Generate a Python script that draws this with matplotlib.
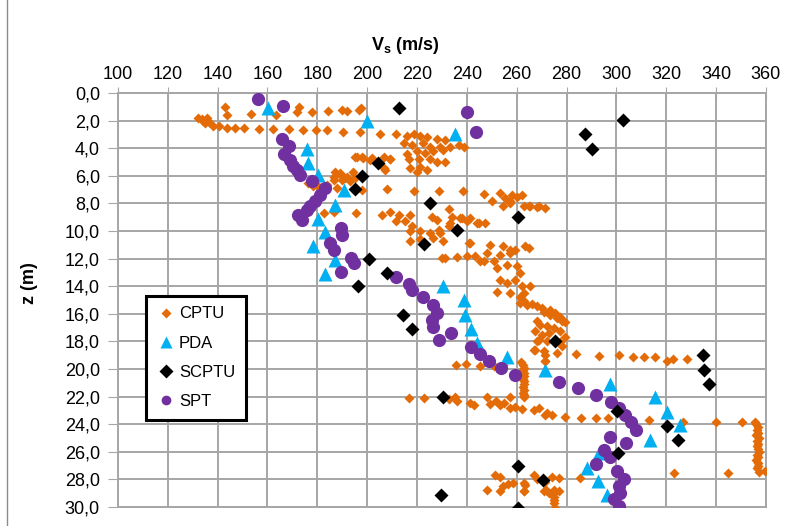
import numpy as np
import matplotlib
matplotlib.use("Agg")
import matplotlib.pyplot as plt
from matplotlib.lines import Line2D

plt.rcParams['font.family'] = ['Liberation Sans', 'DejaVu Sans']
plt.rcParams['mathtext.fontset'] = 'custom'
plt.rcParams['mathtext.rm'] = 'Liberation Sans'
plt.rcParams['mathtext.bf'] = 'Liberation Sans:bold'

# ---- data: (Vs [m/s], depth z [m]) ----
cptu_vs = [
    # shallow rows
    143.0, 143.7, 153.5, 163.6, 172.8, 171.8, 178.0, 184.4, 190.0, 191.8, 196.9, 197.6,
    132.3, 133.6, 135.6, 135.0, 136.7, 134.0, 138.3, 140.7, 143.7, 147.0, 150.7, 156.6,
    162.4, 168.7, 174.4, 179.4, 183.8, 190.2, 197.2, 205.2, 211.4,
    # cluster 215-240 m/s, 3-6 m
    215.9, 218.9, 221.3, 224.0, 228.0, 231.3, 214.6, 217.9, 222.6, 225.3, 229.3, 233.3,
    236.7, 238.7, 215.9, 219.9, 223.3, 226.6, 230.6, 216.6, 220.6, 225.3, 228.0, 231.3,
    217.3, 221.3, 224.0, 219.9,
    # 4.5-7 m
    195.2, 198.0, 201.9, 206.6, 209.2, 194.5, 206.6, 195.9, 198.5, 201.2, 209.2, 207.2,
    187.1, 189.2, 191.8, 195.2, 186.5, 189.8, 193.2, 197.9, 207.9, 186.5, 188.9, 191.2,
    176.4, 178.2, 180.4, 183.8, 187.8,
    # 7-9.5 m
    218.6, 228.7, 238.4, 246.7, 250.0, 253.4, 255.4, 258.1, 260.1, 262.1, 262.8, 265.5,
    268.8, 271.5, 257.4, 254.7, 264.8, 268.1, 257.4,
    182.5, 186.5, 195.6, 205.9, 209.2, 212.6, 217.3, 211.6, 215.3, 226.0, 228.0, 232.7,
    234.0, 238.0, 241.4, 244.0, 247.4, 233.3, 237.3, 240.0, 244.7,
    # 9.5-12.5 m
    217.9, 217.3, 221.3, 225.3, 229.3, 232.7, 228.7, 217.3, 221.3, 226.6, 230.6, 241.1,
    249.4, 254.7, 259.4, 263.5, 240.7, 257.4, 264.8, 231.3, 236.0, 240.0, 243.4, 246.7,
    253.4, 257.4, 248.0, 250.7, 252.1, 256.1, 260.1, 230.0, 245.4,
    # 12.5-16.5 m
    261.4, 253.4, 256.1, 259.4, 262.1, 252.1, 257.4, 262.8, 261.4, 265.5, 262.8, 266.0,
    268.1, 270.0, 273.5, 275.5, 277.5, 261.4, 264.0, 270.8, 273.5, 276.2, 278.2, 279.5,
    # 16.5-19.5 m
    269.5, 272.0, 274.8, 277.5, 279.5, 267.5, 270.2, 268.1, 272.2, 277.5, 278.2, 266.8,
    271.0, 276.2, 271.5, 268.1, 272.8, 268.8, 267.5, 271.5, 271.5,
    # row at about 19.3 m
    283.9, 293.2, 300.9, 306.7, 311.2, 315.4, 320.3, 322.8, 328.4,
    235.7, 239.8, 245.4, 251.0, 254.7, 261.7,
    # column at about 262 m/s
    262.6, 262.9, 262.7, 263.0, 262.8, 262.6, 262.9, 263.1, 262.7, 262.9, 262.6, 262.8, 263.0,
    # rows at about 22-24 m
    216.6, 223.0, 232.7, 235.3, 236.0, 241.4, 243.0, 248.0, 249.1, 251.5, 253.4, 254.8,
    257.4, 257.4, 259.5, 262.1, 266.8, 268.8, 272.1, 271.5, 274.2, 279.5, 285.8, 291.8,
    296.7, 313.2, 326.9, 339.8, 350.3,
    # column at about 356 m/s
    355.6, 356.2, 357.0, 356.4, 356.8, 356.0, 357.2, 356.5, 356.9, 356.3, 356.7, 357.1,
    356.4, 356.9, 356.2, 356.8, 357.0, 356.6, 357.3, 359.8, 344.9, 323.3,
    # deep cluster 27-30 m
    251.4, 248.0, 253.4, 254.7, 256.7, 258.5, 262.8, 262.8, 266.8, 268.1, 271.5, 271.9,
    274.2, 276.8, 274.8, 274.8, 274.8, 275.5, 272.8, 276.8, 285.3, 263.5, 263.0, 270.8,
    253.4, 274.8, 274.8,
]
cptu_z = [
    1.0, 1.6, 1.5, 1.6, 1.0, 1.4, 1.4, 1.3, 1.2, 1.3, 1.2, 1.1,
    1.8, 1.9, 1.8, 2.2, 2.1, 2.0, 2.4, 2.35, 2.5, 2.5, 2.5, 2.6,
    2.6, 2.6, 2.7, 2.7, 2.7, 2.8, 2.8, 3.0, 3.0,
    3.1, 3.0, 3.1, 3.2, 3.3, 3.4, 3.6, 3.75, 3.6, 3.9, 3.9, 3.9,
    3.75, 3.9, 4.4, 4.2, 4.35, 4.2, 4.1, 4.8, 4.8, 4.8, 5.0, 5.0,
    5.4, 5.35, 5.55, 5.7,
    4.6, 4.65, 4.7, 4.65, 4.8, 5.7, 5.4, 4.65, 4.7, 4.85, 4.75, 5.55,
    5.7, 5.85, 6.05, 6.15, 6.3, 6.3, 6.4, 7.0, 6.95, 6.05, 5.8, 6.15,
    6.5, 6.75, 6.7, 6.65, 6.9,
    7.1, 7.1, 7.1, 7.3, 7.8, 7.25, 7.6, 7.4, 7.5, 7.4, 8.2, 8.2,
    8.15, 8.3, 7.85, 8.15, 8.15, 8.25, 7.95,
    8.7, 8.6, 8.7, 8.8, 8.6, 8.8, 8.8, 9.3, 9.3, 8.95, 9.2, 8.4,
    8.95, 9.05, 9.05, 9.4, 9.4, 9.4, 9.05, 9.3, 9.4,
    9.65, 10.0, 10.0, 10.15, 10.15, 9.65, 9.9, 10.75, 10.6, 10.5, 10.75, 10.85,
    11.0, 11.1, 11.35, 11.1, 10.85, 11.35, 11.2, 11.95, 11.85, 11.8, 11.8, 12.2,
    11.7, 11.6, 11.6, 12.2, 12.7, 12.45, 12.55, 11.95, 12.2,
    13.05, 13.55, 13.75, 13.55, 14.0, 14.4, 14.5, 14.5, 14.75, 14.0, 15.1, 15.3,
    15.45, 15.55, 15.7, 15.95, 16.2, 15.2, 15.35, 15.85, 16.05, 16.3, 16.55, 16.6,
    16.8, 16.9, 17.05, 17.25, 17.65, 17.25, 17.5, 18.0, 18.0, 18.05, 18.35, 18.6,
    18.7, 18.85, 19.45, 16.55, 17.4, 17.9, 18.6, 18.95, 19.4,
    18.9, 19.05, 19.0, 19.1, 19.1, 19.15, 19.4, 19.3, 19.3,
    19.7, 19.6, 19.8, 19.75, 19.7, 19.5,
    19.7, 19.9, 20.1, 20.3, 20.5, 20.7, 20.9, 21.1, 21.3, 21.5, 21.7, 21.85, 22.0,
    22.1, 22.1, 22.2, 22.0, 22.3, 22.45, 22.6, 22.0, 22.5, 22.3, 22.6, 22.45,
    22.0, 22.85, 22.75, 22.9, 22.95, 22.8, 23.2, 23.3, 23.3, 23.45, 23.55, 23.55,
    23.55, 23.7, 23.8, 23.85, 23.85,
    23.8, 24.0, 24.2, 24.4, 24.6, 24.8, 25.0, 25.2, 25.4, 25.6, 25.8, 26.0,
    26.2, 26.4, 26.6, 26.8, 27.0, 27.2, 27.45, 27.4, 27.55, 27.55,
    27.65, 28.75, 28.85, 28.5, 28.35, 28.25, 28.25, 28.85, 27.65, 28.0, 28.15, 28.75,
    27.8, 27.9, 28.75, 29.25, 29.7, 30.05, 29.0, 28.85, 27.9, 28.4, 28.85, 28.85,
    27.8, 29.5, 29.0,
]

pda_vs = [160.4, 200.1, 235.3, 175.8, 176.4, 180.4, 190.9, 187.1, 180.2, 182.9, 178.4,
          187.1, 182.9, 230.4, 238.7, 239.4, 241.6, 244.0, 256.1, 271.5, 297.3, 315.4,
          320.3, 325.7, 313.4, 292.9, 288.2, 292.6, 296.3, 300.9]
pda_z = [1.1, 2.05, 3.0, 4.05, 5.05, 5.9, 7.0, 8.1, 9.1, 10.05, 11.05,
         12.1, 13.1, 14.0, 15.0, 16.05, 17.1, 18.1, 19.1, 20.05, 21.1, 22.05,
         23.1, 24.05, 25.15, 26.1, 27.15, 28.1, 29.1, 30.1]

scptu_vs = [212.9, 302.7, 287.6, 290.2, 204.5, 197.9, 195.2, 225.3, 260.4, 236.0, 223.0,
            200.9, 207.9, 196.5, 214.3, 217.9, 275.2, 334.7, 335.3, 337.1, 230.4, 300.3,
            320.3, 324.8, 300.5, 260.4, 270.4, 229.7, 260.4]
scptu_z = [1.05, 1.95, 2.95, 4.05, 5.05, 6.0, 6.95, 8.0, 9.0, 9.95, 10.95,
           12.05, 13.05, 13.95, 16.05, 17.1, 18.0, 19.0, 20.05, 21.1, 22.05, 23.05,
           24.1, 25.15, 26.05, 27.05, 28.05, 29.15, 30.05]

spt_vs = [156.3, 166.4, 240.0, 243.8, 165.7, 168.8, 166.8, 169.1, 170.4, 171.8, 173.1,
          177.8, 182.9, 181.1, 179.1, 177.1, 175.8, 172.2, 173.8, 189.4, 190.0, 185.1,
          186.5, 193.5, 194.8, 189.4, 211.6, 216.6, 217.9, 222.6, 226.6, 228.2, 226.0,
          226.6, 233.7, 228.7, 241.6, 245.1, 249.0, 253.7, 259.4, 276.8, 284.6, 291.8,
          298.0, 300.9, 303.3, 306.0, 308.0, 297.3, 303.9, 295.2, 297.3, 292.0, 300.3,
          302.9, 300.9, 301.3, 298.9, 300.9]
spt_z = [0.4, 0.9, 1.35, 2.85, 3.35, 3.85, 4.4, 4.85, 5.25, 5.6, 5.9,
         6.35, 6.9, 7.35, 7.85, 8.2, 8.5, 8.85, 9.2, 9.8, 10.3, 10.85,
         11.35, 11.95, 12.3, 12.95, 13.35, 13.8, 14.3, 14.8, 15.35, 15.9, 16.45,
         16.95, 17.35, 17.9, 18.4, 18.9, 19.4, 19.95, 20.45, 20.95, 21.35, 21.9,
         22.4, 22.85, 23.3, 23.85, 24.45, 24.9, 25.35, 25.85, 26.4, 26.9, 27.4,
         27.95, 28.5, 29.0, 29.4, 29.9]

x_ticks = list(range(100, 361, 20))
z_ticks = list(range(0, 31, 2))

fig = plt.figure(figsize=(7.97, 5.26), dpi=100)
ax = fig.add_axes([0.148, 0.036, 0.813, 0.787])

grid_col = '#a6a6a6'
ax.plot(cptu_vs, cptu_z, 'D', color='#e36c09', ms=5.3, mec='none', label='CPTU', zorder=3)
ax.plot(pda_vs, pda_z, '^', color='#00b0f0', ms=9.5, mec='none', label='PDA', zorder=4)
ax.plot(scptu_vs, scptu_z, 'D', color='black', ms=7.5, mec='none', label='SCPTU', zorder=5)
ax.plot(spt_vs, spt_z, 'o', color='#7030a0', ms=9.5, mec='none', label='SPT', zorder=4)

ax.set_xlim(100, 360)
ax.set_ylim(30, 0)
ax.set_xticks(x_ticks)
ax.set_yticks(z_ticks)
ax.set_yticklabels([f'{t:.1f}'.replace('.', ',') for t in z_ticks])
ax.xaxis.tick_top()
ax.tick_params(axis='x', direction='inout', length=8, color=grid_col, labelsize=13, pad=3)
ax.tick_params(axis='y', direction='out', length=7, color=grid_col, labelsize=13, pad=6)
ax.grid(True, color=grid_col, lw=1.4)
ax.set_axisbelow(True)
for s in ax.spines.values():
    s.set_color(grid_col)
    s.set_linewidth(1.4)

ax.xaxis.set_label_position('top')
ax.set_xlabel(r'$\mathbf{V_s}$ (m/s)', fontsize=13, fontweight='bold')
ax.xaxis.set_label_coords(0.443, 1.103)
ax.set_ylabel('z (m)', fontsize=13, fontweight='bold')
ax.yaxis.set_label_coords(-0.124, 0.54)

leg = ax.legend(loc='upper left', bbox_to_anchor=(0.044, 0.511), fontsize=12,
                frameon=True, fancybox=False, borderpad=0.65, labelspacing=0.85,
                handlelength=1.0, handletextpad=0.3, borderaxespad=0)
for h, m in zip(leg.legend_handles, [5.0, 8.5, 7.0, 7.0]):
    h.set_markersize(m)
leg.get_frame().set_edgecolor('black')
leg.get_frame().set_linewidth(2.2)
leg.get_frame().set_alpha(1)

# left edge of the chart-area border
fig.add_artist(Line2D([7 / 797, 7 / 797], [0, 1], color='#8c8c8c', lw=1.0))

fig.savefig('out.png', dpi=100)
